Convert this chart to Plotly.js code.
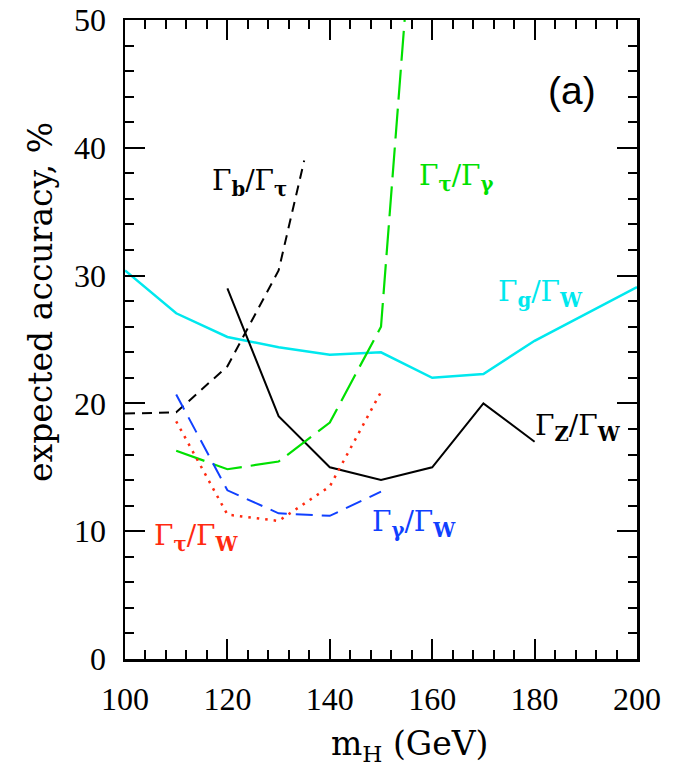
<!DOCTYPE html>
<html>
<head>
<meta charset="utf-8">
<script src="https://cdn.plot.ly/plotly-3.0.1.min.js"></script>
<style>html,body{margin:0;padding:0;background:#fff;}#chart{width:685px;height:772px;}</style>
</head>
<body>
<div id="chart"></div>
<script>
// Higgs mass (GeV)
const mH_gW   = [100, 110, 120, 130, 140, 150, 160, 170, 180, 190, 200];
const acc_gW  = [30.4, 27.05, 25.2, 24.4, 23.8, 24.0, 22.0, 22.3, 24.9, 27.0, 29.1];

const mH_ZW   = [120, 130, 140, 150, 160, 170, 180];
const acc_ZW  = [29.0, 19.0, 15.0, 14.0, 15.0, 20.0, 17.0];

const mH_btau  = [100, 110, 120, 130, 135];
const acc_btau = [19.2, 19.3, 22.9, 30.4, 39.0];

const mH_taugam  = [110, 120, 130, 140, 150, 155];
const acc_taugam = [16.3, 14.85, 15.45, 18.5, 26.0, 52.0];

const mH_gamW  = [110, 120, 130, 140, 150];
const acc_gamW = [20.7, 13.2, 11.4, 11.2, 13.1];

const mH_tauW  = [110, 120, 130, 140, 150];
const acc_tauW = [18.6, 11.3, 10.8, 13.5, 20.9];

const xTicks = [100, 120, 140, 160, 180, 200];
const yTicks = [0, 10, 20, 30, 40, 50];

const CYAN = '#00e8ee', GREEN = '#00e000', BLUE = '#1040ff', RED = '#ff2a10', BLACK = '#000000';

const traces = [
  {x: mH_gW, y: acc_gW, mode: 'lines', line: {color: CYAN, width: 2.5}, name: 'Γg/ΓW'},
  {x: mH_ZW, y: acc_ZW, mode: 'lines', line: {color: BLACK, width: 2}, name: 'ΓZ/ΓW'},
  {x: mH_btau, y: acc_btau, mode: 'lines', line: {color: BLACK, width: 2, dash: '10px,7px'}, name: 'Γb/Γτ'},
  {x: mH_taugam, y: acc_taugam, mode: 'lines', line: {color: GREEN, width: 2.2, dash: '30px,9px'}, name: 'Γτ/Γγ'},
  {x: mH_gamW, y: acc_gamW, mode: 'lines', line: {color: BLUE, width: 2, dash: '17px,9px'}, name: 'Γγ/ΓW'},
  {x: mH_tauW, y: acc_tauW, mode: 'lines', line: {color: RED, width: 2.5, dash: '2.5px,6px'}, name: 'Γτ/ΓW'}
];

const labFont = (c) => ({family: 'DejaVu Serif, Liberation Serif, serif', size: 28, color: c});
const titleFont = {family: 'DejaVu Serif, Liberation Serif, serif', size: 33, color: BLACK};

const annotations = [
  {x: 124.4, y: 37.3, text: 'Γ<sub><b>b</b></sub>/Γ<sub><b>τ</b></sub>', font: labFont(BLACK)},
  {x: 164.8, y: 37.7, text: 'Γ<sub><b>τ</b></sub>/Γ<sub><b>γ</b></sub>', font: labFont(GREEN)},
  {x: 181.2, y: 28.6, text: 'Γ<sub><b>g</b></sub>/Γ<sub><b>W</b></sub>', font: labFont(CYAN)},
  {x: 188.5, y: 18.1, text: 'Γ<sub><b>Z</b></sub>/Γ<sub><b>W</b></sub>', font: labFont(BLACK)},
  {x: 113.9, y: 9.5, text: 'Γ<sub><b>τ</b></sub>/Γ<sub><b>W</b></sub>', font: labFont(RED)},
  {x: 156.4, y: 10.6, text: 'Γ<sub><b>γ</b></sub>/Γ<sub><b>W</b></sub>', font: labFont(BLUE)},
  {x: 187.3, y: 44.5, text: '(a)', font: {family: 'Liberation Sans, Arial, sans-serif', size: 39, color: BLACK}},
  {xref: 'x', yref: 'paper', x: 155.5, y: -0.135, text: 'm<sub>H</sub> (GeV)', font: titleFont},
  {xref: 'paper', yref: 'y', x: -0.165, y: 27.9, textangle: -90, text: 'expected accuracy, %', font: titleFont}
].map(a => Object.assign({showarrow: false, xanchor: 'center', yanchor: 'middle'}, a));

const axisCommon = {
  showline: true, linecolor: BLACK, linewidth: 2.5, mirror: 'ticks',
  ticks: 'inside', ticklen: 20, tickwidth: 2, tickcolor: BLACK,
  showgrid: false, zeroline: false, fixedrange: true,
  tickfont: {family: 'Liberation Serif, Times New Roman, serif', size: 32, color: BLACK},
  ticklabelstandoff: 10
};

const layout = {
  width: 685, height: 772,
  margin: {l: 125, r: 48, t: 20, b: 113},
  paper_bgcolor: '#ffffff', plot_bgcolor: '#ffffff',
  showlegend: false,
  xaxis: Object.assign({}, axisCommon, {
    range: [100, 200], tickmode: 'array', tickvals: xTicks, ticktext: xTicks.map(String),
    minor: {dtick: 4, tick0: 100, ticks: 'inside', ticklen: 9, tickwidth: 2, tickcolor: BLACK}
  }),
  yaxis: Object.assign({}, axisCommon, {
    range: [0, 50], tickmode: 'array', tickvals: yTicks, ticktext: yTicks.map(String),
    minor: {dtick: 2, tick0: 0, ticks: 'inside', ticklen: 9, tickwidth: 2, tickcolor: BLACK}
  }),
  annotations: annotations
};

Plotly.newPlot('chart', traces, layout, {staticPlot: true, displayModeBar: false});
</script>
</body>
</html>
